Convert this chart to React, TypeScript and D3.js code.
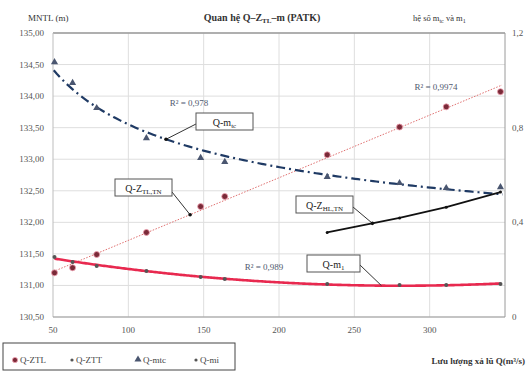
import * as d3 from "d3";

// discharge Q (m3/s)
const Q = [51, 63, 79, 112, 148, 164, 232, 280, 311, 347];
// upstream water level (left axis)
const zTL = [131.2, 131.28, 131.49, 131.84, 132.25, 132.41, 133.07, 133.51, 133.83, 134.07];
// second level series, only high discharges
const qTT = [232, 280, 311, 347];
const zTT = [131.84, 132.07, 132.24, 132.48];
// coefficients (right axis)
const mTC = [1.077, 0.989, 0.883, 0.756, 0.672, 0.655, 0.592, 0.566, 0.545, 0.549];
const m1 = [0.254, 0.232, 0.215, 0.194, 0.169, 0.161, 0.139, 0.135, 0.135, 0.139];

const leftTicks = [130.5, 131, 131.5, 132, 132.5, 133, 133.5, 134, 134.5, 135];
const rightTicks = [0, 0.4, 0.8, 1.2];
const xTicks = [50, 100, 150, 200, 250, 300];

const W = 531;
const H = 371;
const L = 53, R = 505, T = 33, B = 317;
const font = "'Liberation Serif', 'Times New Roman', serif";

const fmt = (v: number, n: number) => v.toFixed(n).replace(".", ",");

// least squares helpers for the trend lines
function linFit(xs: number[], ys: number[]) {
  const mx = d3.mean(xs)!, my = d3.mean(ys)!;
  let sxy = 0, sxx = 0;
  xs.forEach((x, i) => { sxy += (x - mx) * (ys[i] - my); sxx += (x - mx) * (x - mx); });
  const b = sxy / sxx;
  const a = my - b * mx;
  return (x: number) => a + b * x;
}
function powFit(xs: number[], ys: number[]) {
  const f = linFit(xs.map(Math.log), ys.map(Math.log));
  return (x: number) => Math.exp(f(Math.log(x)));
}
function quadFit(xs: number[], ys: number[]) {
  // normal equations 3x3
  const s = [0, 0, 0, 0, 0];
  const t = [0, 0, 0];
  xs.forEach((x, i) => {
    for (let k = 0; k < 5; k++) s[k] += Math.pow(x, k);
    for (let k = 0; k < 3; k++) t[k] += Math.pow(x, k) * ys[i];
  });
  const M = [
    [s[0], s[1], s[2], t[0]],
    [s[1], s[2], s[3], t[1]],
    [s[2], s[3], s[4], t[2]],
  ];
  for (let i = 0; i < 3; i++) {
    for (let j = i + 1; j < 3; j++) {
      const f = M[j][i] / M[i][i];
      for (let k = i; k < 4; k++) M[j][k] -= f * M[i][k];
    }
  }
  const c = [0, 0, 0];
  for (let i = 2; i >= 0; i--) {
    let v = M[i][3];
    for (let k = i + 1; k < 3; k++) v -= M[i][k] * c[k];
    c[i] = v / M[i][i];
  }
  return (x: number) => c[0] + c[1] * x + c[2] * x * x;
}

export default function App() {
  const x = d3.scaleLinear().domain([50, 350]).range([L, R]);
  const yL = d3.scaleLinear().domain([130.5, 135]).range([B, T]);
  const yR = d3.scaleLinear().domain([0, 1.2]).range([B, T]);

  const fTL = linFit(Q, zTL);
  const fTC = powFit(Q, mTC);
  const fM1 = quadFit(Q, m1);

  const qs = d3.range(Q[0], Q[Q.length - 1] + 0.1, 2);
  const trendTL = d3.line<number>().x((q) => x(q)).y((q) => yL(fTL(q)))([Q[0] - 1, Q[Q.length - 1] + 1])!;
  const trendTC = d3.line<number>().x((q) => x(q)).y((q) => yR(fTC(q)))(d3.range(50.5, 350, 2))!;
  const trendM1 = d3.line<number>().x((q) => x(q)).y((q) => yR(fM1(q))).curve(d3.curveBasis)(qs)!;
  const lineTT = d3.line<number>().x((_, i) => x(qTT[i])).y((v) => yL(v))(zTT)!;

  const tri = d3.symbol().type(d3.symbolTriangle).size(22)()!;

  // callout anchors on the data
  const aTC = { x: x(125), y: yR(fTC(125)) };
  const aTL = { x: x(141), y: yL(fTL(141)) };
  const aTT = { x: x(262), y: yL(d3.scaleLinear().domain(qTT).range(zTT)(262)) };
  const aM1 = { x: x(268), y: yR(fM1(268)) };

  const box = (bx: number, by: number, bw: number, main: string, sub: string) => (
    <g>
      <rect x={bx} y={by} width={bw} height={17} fill="#fff" stroke="#555" strokeWidth={1} />
      <text x={bx + bw / 2} y={by + 12.5} textAnchor="middle" fontSize={10} fill="#222">
        {main}
        <tspan fontSize={7} dy={2.5}>{sub}</tspan>
      </text>
    </g>
  );

  return (
    <svg width={W} height={H} style={{ position: "absolute", left: 0, top: 0, background: "#fff" }} fontFamily={font}>
      {/* grid */}
      {leftTicks.map((t) => (
        <line key={"h" + t} x1={L} x2={R} y1={yL(t)} y2={yL(t)} stroke="#dedede" />
      ))}
      {xTicks.slice(1).map((t) => (
        <line key={"v" + t} x1={x(t)} x2={x(t)} y1={T} y2={B} stroke="#dedede" />
      ))}
      <line x1={L} x2={R} y1={T} y2={T} stroke="#9a9a9a" strokeWidth={1.3} />
      <line x1={R} x2={R} y1={T} y2={B} stroke="#9a9a9a" />
      <line x1={L} x2={L} y1={T} y2={B} stroke="#bdbdbd" />
      <line x1={L} x2={R} y1={B} y2={B} stroke="#9a9a9a" strokeWidth={1.2} />

      {/* tick labels */}
      {leftTicks.map((t) => (
        <text key={"l" + t} x={44} y={yL(t) + 3} textAnchor="end" fontSize={9} fill="#555">{fmt(t, 2)}</text>
      ))}
      {rightTicks.map((t) => (
        <text key={"r" + t} x={512} y={yR(t) + 3} fontSize={9} fill="#555">{t === 0 ? "0" : fmt(t, 1)}</text>
      ))}
      {xTicks.map((t) => (
        <text key={"x" + t} x={x(t)} y={333} textAnchor="middle" fontSize={9} fill="#555">{t}</text>
      ))}

      {/* titles */}
      <text x={28} y={21} fontSize={9} fill="#333">MNTL (m)</text>
      <text x={262} y={21} textAnchor="middle" fontSize={10} fontWeight="bold" fill="#333">
        Quan hệ Q–Z<tspan fontSize={7} dy={2}>TL</tspan><tspan dy={-2}>–m (PATK)</tspan>
      </text>
      <text x={413} y={21} fontSize={8.5} fill="#333">
        hệ số m<tspan fontSize={6} dy={2}>tc</tspan><tspan dy={-2}> và m</tspan><tspan fontSize={6} dy={2}>1</tspan>
      </text>
      <text x={525} y={364} textAnchor="end" fontSize={9} fontWeight="bold" fill="#333">Lưu lượng xả lũ Q(m³/s)</text>

      {/* trend lines */}
      <path d={trendTL} fill="none" stroke="#e07070" strokeWidth={1} strokeDasharray="1.5,1.5" />
      <path d={trendTC} fill="none" stroke="#1f3a64" strokeWidth={2.2} strokeDasharray="9,4,2,4" />
      <path d={trendM1} fill="none" stroke="#e8294f" strokeWidth={2.6} />
      <path d={lineTT} fill="none" stroke="#111" strokeWidth={1.8} />

      {/* markers */}
      {Q.map((q, i) => (
        <circle key={"ztl" + i} cx={x(q)} cy={yL(zTL[i])} r={3} fill="#7a2a38" stroke="#f0a0b0" strokeWidth={0.8} />
      ))}
      {Q.map((q, i) => (
        <path key={"mtc" + i} d={tri} transform={`translate(${x(q)},${yR(mTC[i])})`} fill="#4a5670" />
      ))}
      {Q.map((q, i) => (
        <circle key={"m1" + i} cx={x(q)} cy={yR(m1[i])} r={2} fill="#555" />
      ))}
      {qTT.map((q, i) => (
        <circle key={"ztt" + i} cx={x(q)} cy={yL(zTT[i])} r={1.5} fill="#111" />
      ))}

      {/* R² labels */}
      <text x={189} y={106} textAnchor="middle" fontSize={9} fill="#505a70">R² = 0,978</text>
      <text x={436} y={90} textAnchor="middle" fontSize={9} fill="#505a70">R² = 0,9974</text>
      <text x={264} y={270} textAnchor="middle" fontSize={9} fill="#505a70">R² = 0,989</text>

      {/* callouts */}
      <line x1={196} y1={124} x2={aTC.x} y2={aTC.y} stroke="#333" />
      <circle cx={aTC.x} cy={aTC.y} r={1.8} fill="#111" />
      {box(196, 113, 57, "Q-m", "tc")}
      <line x1={172} y1={192} x2={aTL.x} y2={aTL.y} stroke="#333" />
      <circle cx={aTL.x} cy={aTL.y} r={1.8} fill="#111" />
      {box(115, 179, 57, "Q-Z", "TL,TN")}
      <line x1={353} y1={207} x2={aTT.x} y2={aTT.y} stroke="#333" />
      <circle cx={aTT.x} cy={aTT.y} r={1.8} fill="#111" />
      {box(296, 196, 57, "Q-Z", "HL,TN")}
      <line x1={360} y1={265} x2={aM1.x} y2={aM1.y} stroke="#333" />
      {box(307, 255, 53, "Q-m", "1")}

      {/* legend */}
      <rect x={3} y={343} width={232} height={27} fill="#fff" stroke="#444" strokeWidth={1} />
      <circle cx={15} cy={360} r={2.6} fill="#7a2a38" stroke="#f0a0b0" strokeWidth={0.8} />
      <text x={20} y={363} fontSize={9} fill="#444">Q-ZTL</text>
      <circle cx={72} cy={360} r={1.6} fill="#555" />
      <text x={76} y={363} fontSize={9} fill="#444">Q-ZTT</text>
      <path d={tri} transform="translate(138,359.5)" fill="#4a5670" />
      <text x={143} y={363} fontSize={9} fill="#444">Q-mtc</text>
      <circle cx={196} cy={360} r={1.6} fill="#555" />
      <text x={200} y={363} fontSize={9} fill="#444">Q-mi</text>
    </svg>
  );
}
